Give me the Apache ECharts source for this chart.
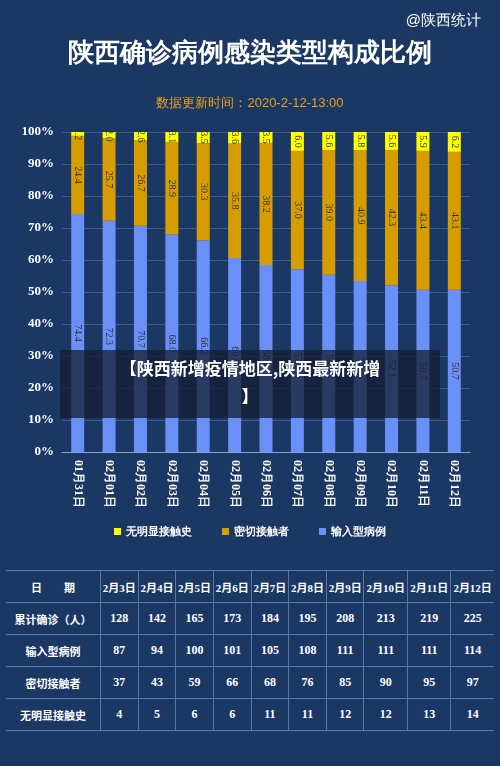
<!DOCTYPE html>
<html><head><meta charset="utf-8">
<script src="https://cdn.jsdelivr.net/npm/echarts@6/dist/echarts.min.js"></script>
<style>
body{margin:0;background:#1b3764;font-family:"Noto Sans CJK SC",sans-serif;}
#wrap{position:relative;width:500px;height:766px;}
#chart{position:absolute;left:0;top:0;width:500px;height:560px;}
#tbl{position:absolute;left:6px;top:570px;width:488px;border-collapse:collapse;color:#fff;font-weight:bold;font-size:12px;text-align:center;font-family:"Liberation Serif","Noto Sans CJK SC",serif;}
#tbl td{border-top:1px solid #5a77a6;border-bottom:1px solid #5a77a6;border-left:1px solid #5a77a6;height:31px;padding:0;}
#tbl td:first-child{border-left:none;width:94px;font-family:"Noto Sans CJK SC",sans-serif;font-size:11px;}
#tbl tr:first-child td{font-size:11px;}
#banner{position:absolute;left:60px;top:350px;width:380px;height:64px;background:rgba(20,30,50,0.75);color:#fff;font-weight:bold;font-size:17px;text-align:center;line-height:28px;padding-top:4px;}
</style></head>
<body><div id="wrap"><div id="chart"></div><table id="tbl"></table>
<div id="banner">【陕西新增疫情地区,陕西最新新增<br>】</div></div>
<script>
var dates = ['01月31日','02月01日','02月02日','02月03日','02月04日','02月05日','02月06日','02月07日','02月08日','02月09日','02月10日','02月11日','02月12日'];
var imported = [74.4,72.3,70.7,68.0,66.2,60.6,58.4,57.1,55.4,53.4,52.1,50.7,50.7];
var contact = [24.4,25.7,26.7,28.9,30.3,35.8,38.2,37.0,39.0,40.9,42.3,43.4,43.1];
var unknown = [1.2,2.0,2.6,3.1,3.5,3.6,3.5,6.0,5.6,5.8,5.6,5.9,6.2];

var tblDates = ['2月3日','2月4日','2月5日','2月6日','2月7日','2月8日','2月9日','2月10日','2月11日','2月12日'];
var tblTotal = [128,142,165,173,184,195,208,213,219,225];
var tblImported = [87,94,100,101,105,108,111,111,111,114];
var tblContact = [37,43,59,66,68,76,85,90,95,97];
var tblUnknown = [4,5,6,6,11,11,12,12,13,14];

var rows = [['日　　期'].concat(tblDates),['累计确诊（人）'].concat(tblTotal),['输入型病例'].concat(tblImported),['密切接触者'].concat(tblContact),['无明显接触史'].concat(tblUnknown)];
var html = '';
rows.forEach(function(r){ html += '<tr>' + r.map(function(c){return '<td>'+c+'</td>';}).join('') + '</tr>'; });
document.getElementById('tbl').innerHTML = html;

var lbl = {show:true,position:'inside',rotate:-90,color:'#333',fontSize:10,fontFamily:'Liberation Serif',formatter:function(p){return p.value.toFixed(1);}};
var chart = echarts.init(document.getElementById('chart'));
chart.setOption({
  backgroundColor:'#1b3764',
  title:[
    {text:'陕西确诊病例感染类型构成比例',left:'center',top:36,textStyle:{color:'#fff',fontSize:26,fontWeight:'bold'}},
    {text:'数据更新时间：2020-2-12-13:00',left:'center',top:92,textStyle:{color:'#e8a317',fontSize:13,fontWeight:'normal'}},
    {text:'@陕西统计',right:14,top:8,textStyle:{color:'#fff',fontSize:15,fontWeight:'normal'}}
  ],
  legend:{bottom:18,icon:'rect',itemWidth:7,itemHeight:7,itemGap:30,textStyle:{color:'#fff',fontSize:11,fontWeight:'bold'},
    data:['无明显接触史','密切接触者','输入型病例']},
  grid:{left:62,right:30,top:132,bottom:108},
  xAxis:{type:'category',data:dates,axisLine:{lineStyle:{color:'#8aa0c8'}},axisTick:{show:false},
    axisLabel:{rotate:-90,color:'#fff',fontSize:12,fontWeight:'bold',fontFamily:'Liberation Serif'}},
  yAxis:{type:'value',min:0,max:100,interval:10,axisLine:{show:false},axisTick:{show:false},
    splitLine:{lineStyle:{color:'#3d5a8a'}},
    axisLabel:{color:'#fff',fontSize:13,fontWeight:'bold',fontFamily:'Liberation Serif',formatter:'{value}%'}},
  series:[
    {name:'输入型病例',type:'bar',stack:'a',barWidth:13,data:imported,itemStyle:{color:'#6a8ff6'},label:lbl},
    {name:'密切接触者',type:'bar',stack:'a',data:contact,itemStyle:{color:'#d79d00'},label:lbl},
    {name:'无明显接触史',type:'bar',stack:'a',data:unknown,itemStyle:{color:'#ffff00'},label:lbl}
  ]
});
</script></body></html>
